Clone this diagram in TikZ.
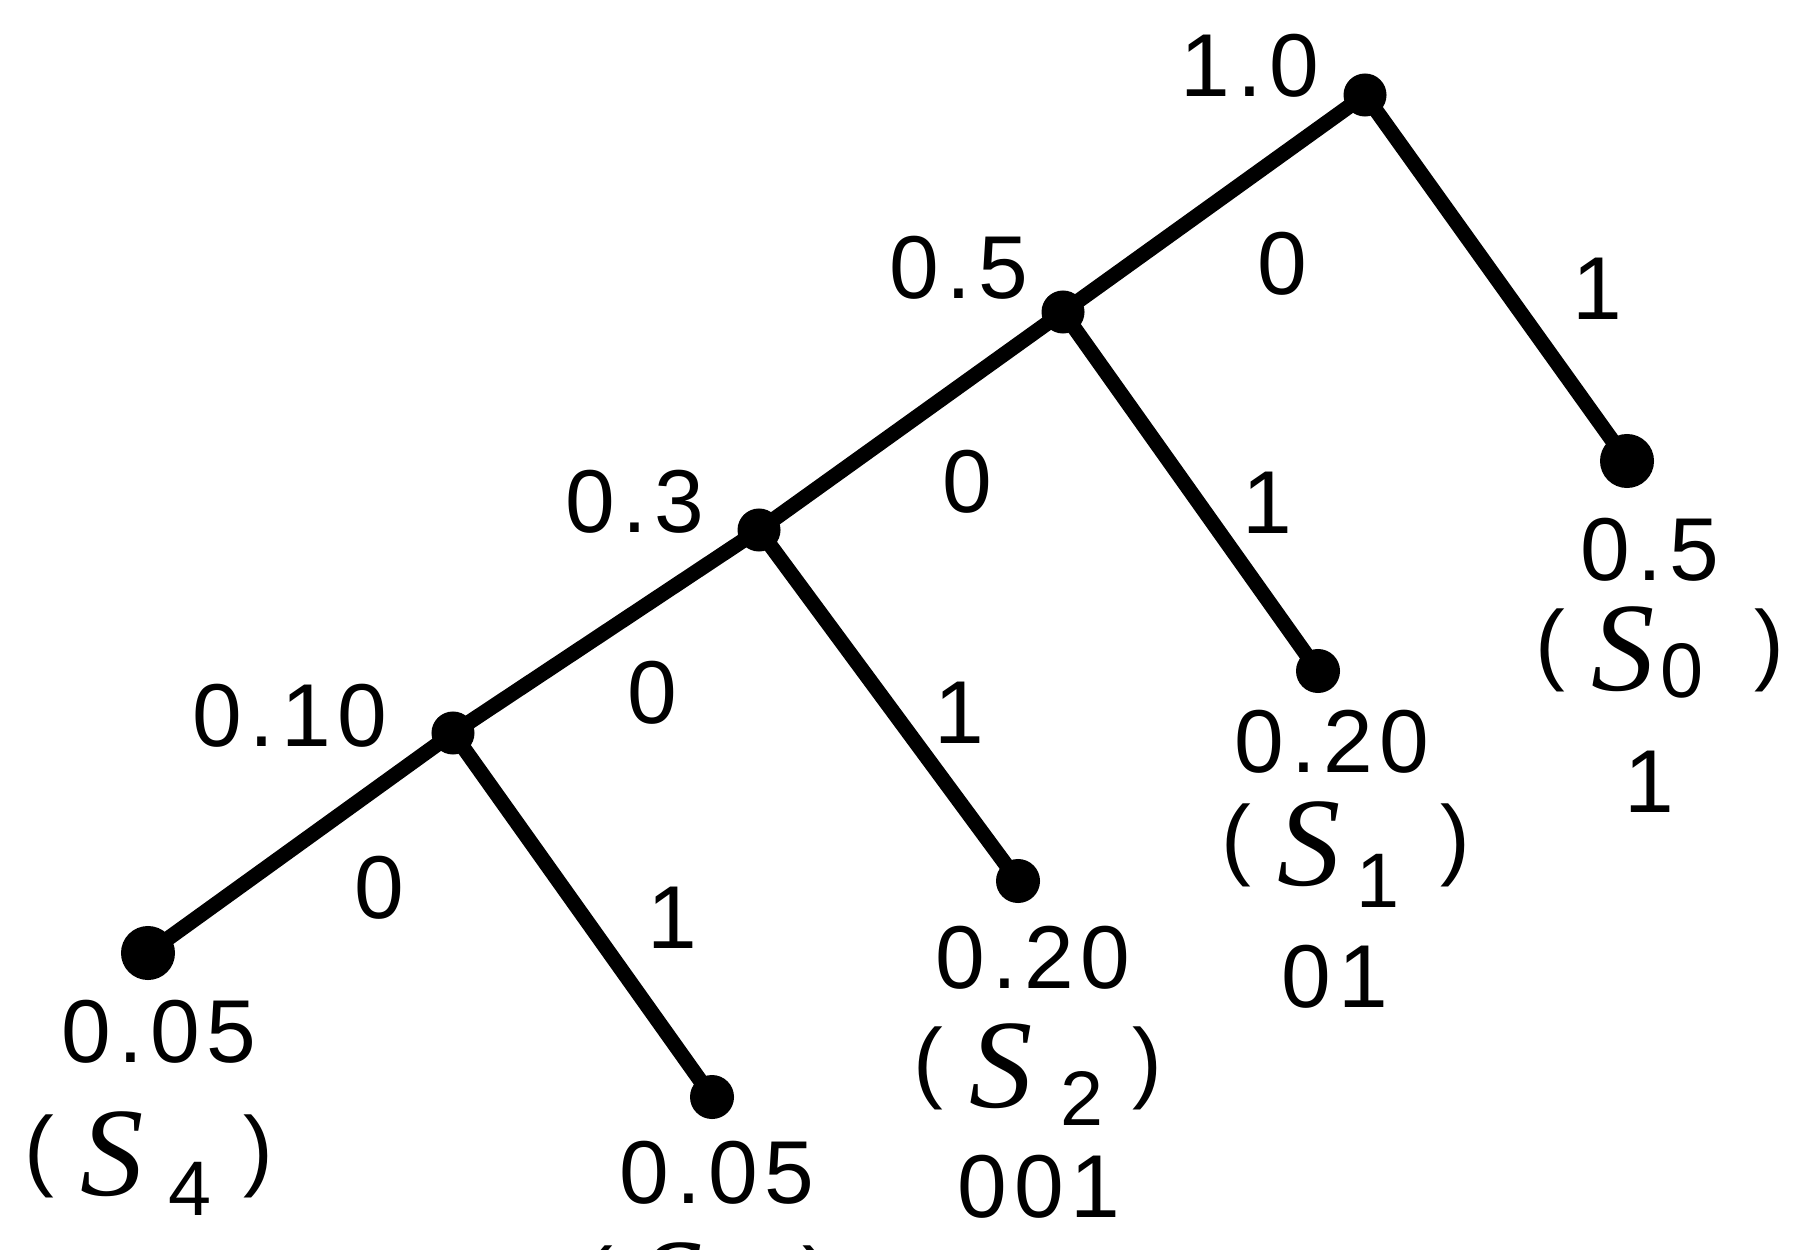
\documentclass[tikz,border=0pt]{standalone}
\usepackage{fontspec}
\newfontfamily\lblfam[LetterSpace=8]{Liberation Sans}
\newfontfamily\plainfam{Liberation Sans}
\newfontfamily\sitfam{Liberation Serif}
\newcommand\lbl{\lblfam\fontsize{25.4}{30}\selectfont}
\newcommand\prn{\plainfam\fontsize{25.4}{30}\selectfont}
\newcommand\subf{\plainfam\fontsize{22}{26}\selectfont}
\newcommand\sletter{{\sitfam\itshape\fontsize{36}{40}\selectfont S}}
% #1 subscript, #2 kern before subscript, #3 drop of subscript
\newcommand\slab[3]{\hbox to 2.48cm{\raisebox{0.16cm}{\prn(}\kern0.26cm\sletter\kern#2\raisebox{-#3}{\subf #1}\hss\raisebox{0.16cm}{\prn)}}}
\tikzset{
  edge/.style={line width=0.15cm, line cap=round},
  inner/.style={circle, fill=black, inner sep=0pt, minimum size=0.43cm},
  leafbig/.style={circle, fill=black, inner sep=0pt, minimum size=0.54cm},
  leafsmall/.style={circle, fill=black, inner sep=0pt, minimum size=0.44cm},
  lab/.style={anchor=base, inner sep=0pt, font=\lbl},
  slabel/.style={anchor=base, inner sep=0pt}
}
\begin{document}
\begin{tikzpicture}[x=0.01cm, y=-0.01cm]
\useasboundingbox (0,0) rectangle (1810,1249);
\clip (0,0) rectangle (1810,1249);
\fill[white] (0,0) rectangle (1810,1249);
% tree nodes
\node[inner] (root) at (1365,95) {};
\node[inner] (n05) at (1063,312) {};
\node[inner] (n03) at (759,530) {};
\node[inner] (n010) at (453,733) {};
\node[leafbig] (s0) at (1627,461) {};
\node[leafsmall] (s1) at (1318,671) {};
\node[leafsmall] (s2) at (1018,881) {};
\node[leafbig] (s4) at (148,953) {};
\node[leafsmall] (s3) at (712,1097) {};
% connectors
\draw[edge] (root.center) -- (n05.center);
\draw[edge] (root.center) -- (s0.center);
\draw[edge] (n05.center) -- (n03.center);
\draw[edge] (n05.center) -- (s1.center);
\draw[edge] (n03.center) -- (n010.center);
\draw[edge] (n03.center) -- (s2.center);
\draw[edge] (n010.center) -- (s4.center);
\draw[edge] (n010.center) -- (s3.center);
% internal probabilities
\node[lab] (proot) at (1250,97) {1.0};
\node[lab] (p05) at (959,298) {0.5};
\node[lab] (p03) at (635,532) {0.3};
\node[lab] (p010) at (290,746) {0.10};
% edge labels
\node[lab] (e1) at (1282,295) {0};
\node[lab] (e2) at (1597,320) {1};
\node[lab] (e3) at (967,512) {0};
\node[lab] (e4) at (1267,533) {1};
\node[lab] (e5) at (652,723) {0};
\node[lab] (e6) at (959,743) {1};
\node[lab] (e7) at (379,918) {0};
\node[lab] (e8) at (672,948) {1};
% leaf S0
\node[lab] (s0p) at (1650,580) {0.5};
\node[slabel] (s0n) at (1660,690) {\slab{0}{0.05cm}{0.07cm}};
\node[lab] (s0c) at (1649,812) {1};
% leaf S1
\node[lab] (s1p) at (1332,772) {0.20};
\node[slabel] (s1n) at (1346,885) {\slab{1}{0.15cm}{0.22cm}};
\node[lab] (s1c) at (1335,1007) {01};
% leaf S2
\node[lab] (s2p) at (1033,988) {0.20};
\node[slabel] (s2n) at (1038,1107) {\slab{2}{0.27cm}{0.18cm}};
\node[lab] (s2c) at (1039,1217) {001};
% leaf S4
\node[lab] (s4p) at (159,1062) {0.05};
\node[slabel] (s4n) at (149,1195) {\slab{4}{0.24cm}{0.20cm}};
% leaf S3 (cut off by the lower edge, as in the reference)
\node[lab] (s3p) at (717,1203) {0.05};
\node[slabel] (s3n) at (708,1326) {\slab{3}{0.24cm}{0.19cm}};
\end{tikzpicture}
\end{document}
